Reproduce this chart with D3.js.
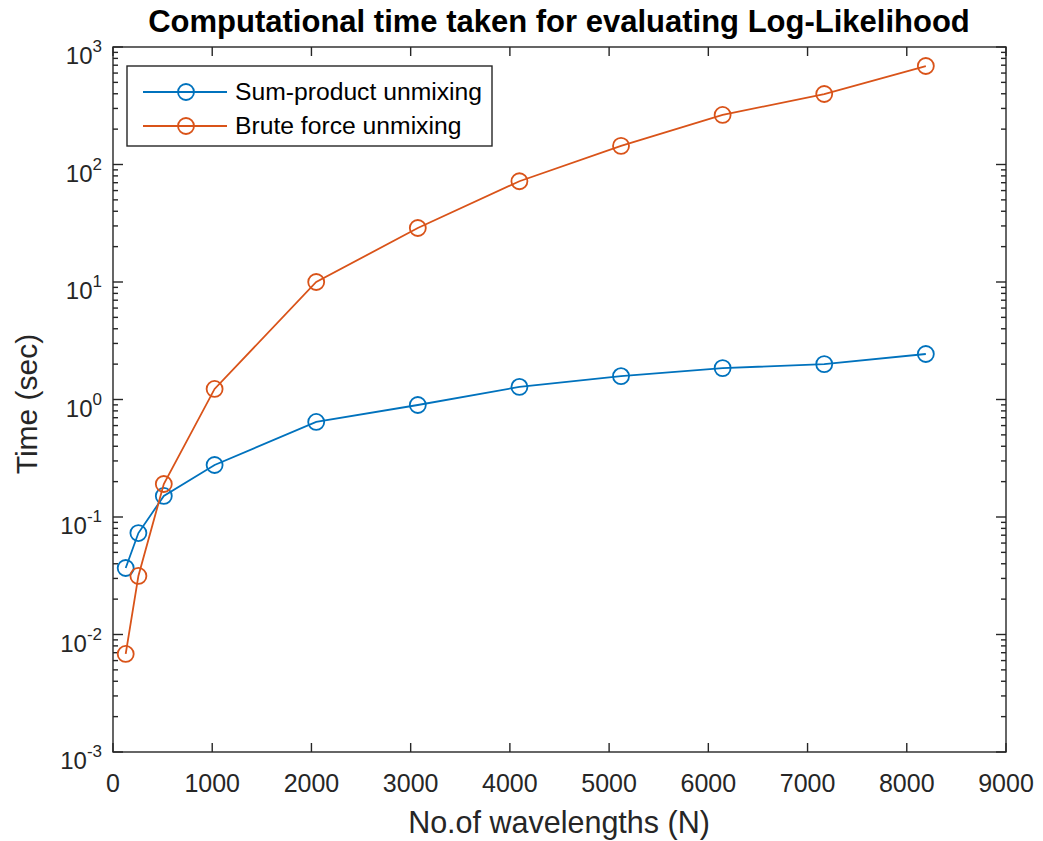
<!DOCTYPE html>
<html><head><meta charset="utf-8">
<script src="https://cdn.jsdelivr.net/npm/d3@7"></script>
<style>body{margin:0;background:#fff;} text{font-family:"Liberation Sans",Arial,sans-serif;}</style>
</head><body>
<svg id="c" width="1043" height="841"></svg>
<script>
const wavelengths = [128, 256, 512, 1024, 2048, 3072, 4096, 5120, 6144, 7168, 8192];
const sumProduct = [0.0368, 0.073, 0.151, 0.277, 0.644, 0.898, 1.28, 1.58, 1.85, 2.0, 2.44];
const bruteForce = [0.00683, 0.0315, 0.191, 1.23, 10, 28.8, 72, 144, 264, 398, 689];
const seriesNames = ["Sum-product unmixing", "Brute force unmixing"];
const xTicks = [0,1000,2000,3000,4000,5000,6000,7000,8000,9000];
const yExps = [-3,-2,-1,0,1,2,3];

const colors = ["#0072BD", "#D95319"];
const axisColor = "#262626";
const L = 113, R = 1006, T = 47, B = 752;
const svg = d3.select("#c");
const x = d3.scaleLinear().domain([0, 9000]).range([L, R]);
const y = d3.scaleLog().domain([1e-3, 1e3]).range([B, T]);

svg.append("rect").attr("x", L).attr("y", T).attr("width", R-L).attr("height", B-T)
  .attr("fill", "none").attr("stroke", axisColor).attr("stroke-width", 1.4);

const g = svg.append("g").attr("stroke", axisColor).attr("stroke-width", 1.4);
xTicks.forEach(v => {
  const px = x(v);
  g.append("line").attr("x1", px).attr("x2", px).attr("y1", B).attr("y2", B-9);
  g.append("line").attr("x1", px).attr("x2", px).attr("y1", T).attr("y2", T+9);
});
yExps.forEach(e => {
  const py = y(Math.pow(10, e));
  g.append("line").attr("x1", L).attr("x2", L+10).attr("y1", py).attr("y2", py);
  g.append("line").attr("x1", R).attr("x2", R-10).attr("y1", py).attr("y2", py);
  if (e < 3) {
    for (let m = 2; m <= 9; m++) {
      const pm = y(m * Math.pow(10, e));
      g.append("line").attr("x1", L).attr("x2", L+5).attr("y1", pm).attr("y2", pm);
      g.append("line").attr("x1", R).attr("x2", R-5).attr("y1", pm).attr("y2", pm);
    }
  }
});

svg.append("g").selectAll("text").data(xTicks).join("text")
  .attr("x", d => x(d)).attr("y", 792).attr("text-anchor", "middle")
  .attr("font-size", 25).attr("fill", axisColor).text(d => d);

yExps.forEach(e => {
  const py = y(Math.pow(10, e));
  const t = svg.append("text").attr("x", 102).attr("y", py + 17).attr("text-anchor", "end")
    .attr("font-size", 24).attr("fill", axisColor);
  t.append("tspan").text("10");
  t.append("tspan").attr("dy", -12).attr("font-size", 17).text(e);
});

svg.append("text").attr("x", 559).attr("y", 833).attr("text-anchor", "middle")
  .attr("font-size", 30.5).attr("fill", axisColor).text("No.of wavelengths (N)");
svg.append("text").attr("transform", `translate(37,404) rotate(-90)`).attr("text-anchor", "middle")
  .attr("font-size", 30).attr("fill", axisColor).text("Time (sec)");
svg.append("text").attr("x", 559).attr("y", 32).attr("text-anchor", "middle")
  .attr("font-size", 31).attr("font-weight", "bold").attr("fill", "#000")
  .text("Computational time taken for evaluating Log-Likelihood");

const line = d3.line().x(d => x(d[0])).y(d => y(d[1]));
[sumProduct, bruteForce].forEach((vals, i) => {
  const pts = wavelengths.map((w, k) => [w, vals[k]]);
  svg.append("path").datum(pts).attr("d", line).attr("fill", "none")
    .attr("stroke", colors[i]).attr("stroke-width", 1.8);
  svg.append("g").selectAll("circle").data(pts).join("circle")
    .attr("cx", d => x(d[0])).attr("cy", d => y(d[1])).attr("r", 8)
    .attr("fill", "none").attr("stroke", colors[i]).attr("stroke-width", 1.8);
});

svg.append("rect").attr("x", 127).attr("y", 66).attr("width", 365).attr("height", 80)
  .attr("fill", "#fff").attr("stroke", axisColor).attr("stroke-width", 1.4);
seriesNames.forEach((n, i) => {
  const ly = 92 + i * 34;
  svg.append("line").attr("x1", 143).attr("x2", 227).attr("y1", ly).attr("y2", ly)
    .attr("stroke", colors[i]).attr("stroke-width", 1.8);
  svg.append("circle").attr("cx", 186).attr("cy", ly).attr("r", 8)
    .attr("fill", "none").attr("stroke", colors[i]).attr("stroke-width", 1.8);
  svg.append("text").attr("x", 235).attr("y", ly + 8).attr("font-size", 24.7).attr("fill", "#000").text(n);
});
</script>
</body></html>
